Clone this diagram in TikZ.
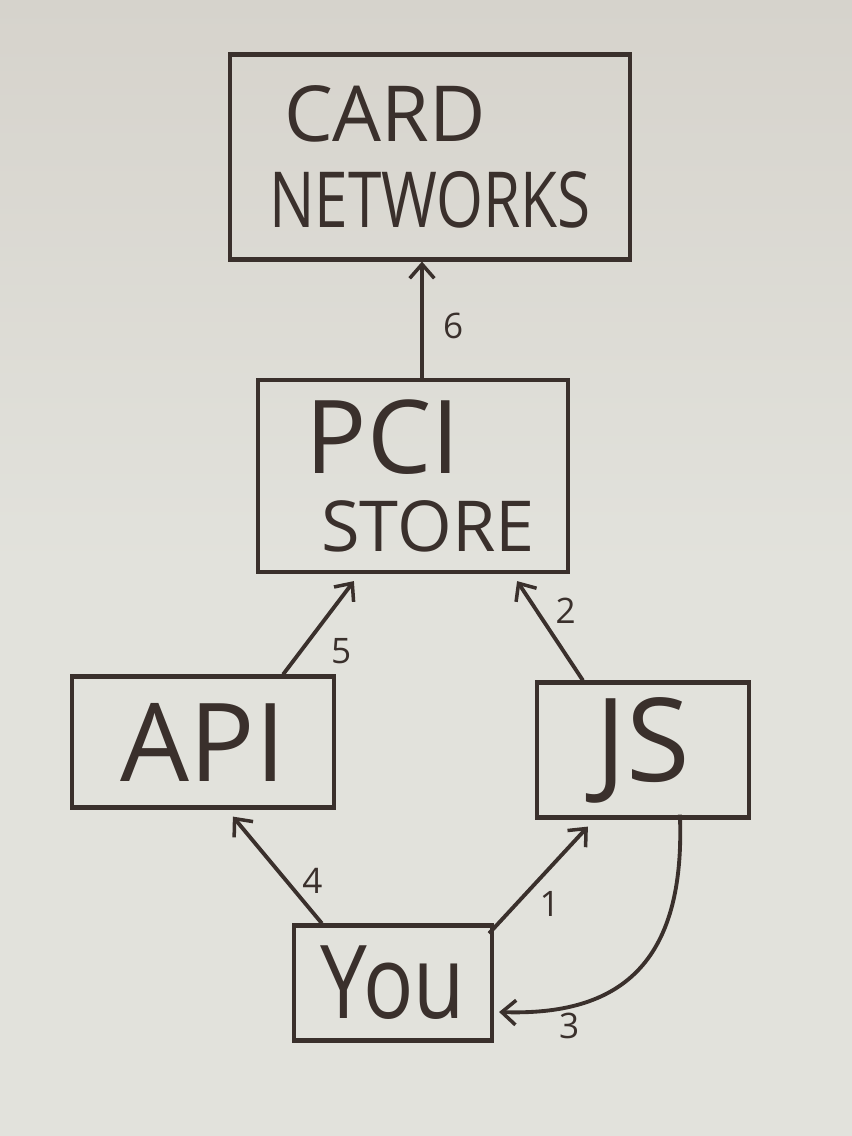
\documentclass[tikz,border=0pt]{standalone}
\usepackage{fontspec}
\setmainfont{Open Sans}
\usetikzlibrary{arrows.meta,calc,positioning}
\definecolor{board}{RGB}{226,226,220}
\definecolor{boardtop}{RGB}{214,211,204}
\definecolor{ink}{RGB}{58,48,44}
\tikzset{
  box/.style={draw=ink, line width=2.4pt, text=ink, align=center, inner sep=0pt},
  arr/.style={draw=ink, line width=2.2pt, -{Straight Barb[length=8pt,width=14pt,line width=2pt]}},
  lab/.style={text=ink, font=\fontsize{20}{20}\selectfont, inner sep=1pt}
}
\begin{document}
\begin{tikzpicture}[x=0.02cm,y=-0.02cm]
\shade[top color=boardtop, bottom color=board, middle color=board] (0,0) rectangle (852,1136);
\useasboundingbox (0,0) rectangle (852,1136);
% boxes
\node[box, minimum width=8cm, minimum height=4.1cm] (card) at (430,157)
  {\fontsize{44}{52}\selectfont CARD\hspace*{1.8cm}\\[16pt]\fontsize{44}{52}\selectfont \scalebox{0.78}[1]{NETWORKS}};
\node[box, minimum width=6.2cm, minimum height=3.84cm] (pci) at (413,476)
  {\fontsize{58}{60}\selectfont PCI\hspace*{1.2cm}\\[14pt]\fontsize{40}{52}\selectfont \hspace*{0.6cm}STORE};
\node[box, minimum width=5.24cm, minimum height=2.62cm] (api) at (203,742)
  {\fontsize{62}{62}\selectfont API};
\node[box, minimum width=4.24cm, minimum height=2.7cm] (js) at (643,750)
  {\fontsize{66}{66}\selectfont JS};
\node[box, minimum width=3.96cm, minimum height=2.3cm] (you) at (393,983)
  {\fontsize{58}{58}\selectfont \scalebox{0.82}[1]{You}};
% connectors
\draw[arr] ([xshift=0.18cm]pci.north) -- ([xshift=0.18cm]pci.north |- card.south)
  node[lab, pos=0.45, right=0.35cm] (l6) {6};
\draw[arr] ([xshift=-1.06cm]api.north east) -- ([xshift=1.96cm,yshift=-0.14cm]pci.south west)
  node[lab, pos=0.45, below right=0.05cm and 0.25cm] (l5) {5};
\draw[arr] ([xshift=0.96cm]js.north west) -- ([xshift=-1.06cm,yshift=-0.14cm]pci.south east)
  node[lab, pos=0.7, right=0.3cm] (l2) {2};
\draw[arr] ([xshift=0.6cm]you.north west) -- ([xshift=3.26cm,yshift=-0.14cm]api.south west)
  node[lab, pos=0.4, right=0.25cm] (l4) {4};
\draw[arr] ([xshift=-0.1cm,yshift=-0.2cm]you.north east) -- ([xshift=1.06cm,yshift=-0.14cm]js.south west)
  node[lab, pos=0.45, below right=0.05cm and 0.05cm] (l1) {1};
\draw[arr] ([xshift=2.9cm,yshift=0.1cm]js.south west) .. controls +(6,150) and +(120,4) .. ([xshift=0.1cm,yshift=-0.58cm]you.east);
\node[lab] (l3) at ([xshift=1.5cm,yshift=-0.86cm]you.east) {3};
\end{tikzpicture}
\end{document}
